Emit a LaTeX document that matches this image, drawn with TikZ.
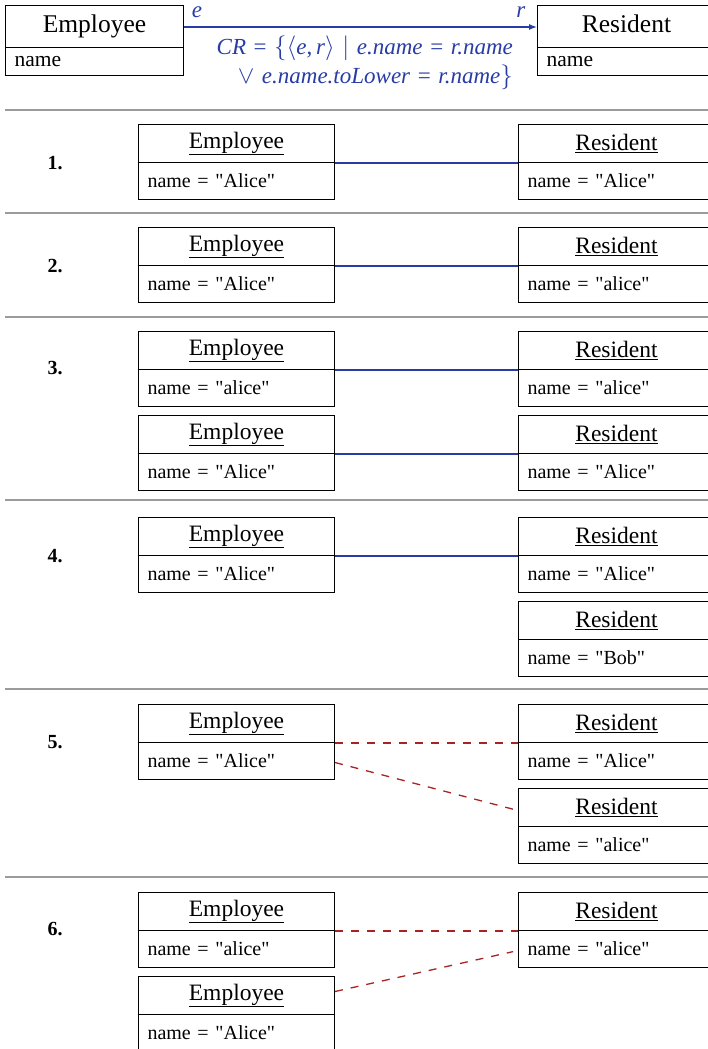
\documentclass[tikz,border=0pt]{standalone}
\usepackage{fontspec}
\setmainfont{Liberation Serif}[Ligatures=TeXOff]
\usetikzlibrary{arrows.meta}
\definecolor{crblue}{RGB}{40,60,165}
\definecolor{crred}{RGB}{170,35,35}
\definecolor{sepgray}{RGB}{155,155,155}
\tikzset{
  boxline/.style={draw, line width=1pt, inner sep=0pt, anchor=north west},
  ttl/.style={boxline, minimum width=196pt, minimum height=38pt, font=\fontsize{23.5}{26}\selectfont},
  att/.style={boxline, minimum width=196pt, minimum height=37pt, inner xsep=9pt, text width=178pt, align=left, font=\fontsize{20}{22}\selectfont},
  topttl/.style={boxline, minimum width=178pt, minimum height=42pt, text height=16pt, text depth=3pt, font=\fontsize{25.5}{28}\selectfont},
  topatt/.style={boxline, minimum width=178pt, minimum height=28pt, inner xsep=9pt, text width=160pt, align=left, font=\fontsize{21.5}{23}\selectfont},
  sep/.style={draw=sepgray, line width=1.2pt},
  rowlbl/.style={font=\fontsize{20}{24}\selectfont\bfseries},
  conn/.style={draw=crblue, line width=1.4pt},
  cand/.style={draw=crred, line width=1.3pt, dash pattern=on 8pt off 8pt},
  bluetxt/.style={text=crblue, font=\fontsize{23}{26}\selectfont},
}
\newcommand\objbox[5]{%
  \node[ttl] (#1t) at (#2,#3) {\underline{#4}};
  \node[att] (#1a) at (#2,#3+37.5) {#5};
}
\newcommand\thsp{\hspace{0.33em}}
\begin{document}
\begin{tikzpicture}[x=1pt,y=-1pt]
\useasboundingbox (0,0) rectangle (708,1049);
% header
\node[topttl] (et) at (5,5) {Employee};
\node[topatt] (ea) at (5,47) {name};
\node[topttl] (rt) at (537,5) {Resident};
\node[topatt] (ra) at (537,47) {name};
\draw[conn, -{Latex[length=8pt,width=6pt]}] (et.east |- 0,27) coordinate (ae) -- (rt.west |- 0,27) coordinate (ar);
\node[bluetxt, anchor=center] (le) at (197,12) {\textit{e}};
\node[bluetxt, anchor=center] (lr) at (521,12) {\textit{r}};
\node[bluetxt, align=right, anchor=north east, inner sep=0pt] (cr) at (513,36)
  {\textit{CR}\thsp=\thsp$\{\langle$\textit{e},\,\textit{r}$\rangle$\thsp$\mid$\thsp\textit{e.name}\thsp=\thsp\textit{r.name}\\[3pt]
   $\vee$\thsp\textit{e.name.toLower}\thsp=\thsp\textit{r.name}$\}$};
% separators
\foreach \yy/\nm in {110/s1,213/s2,317/s3,500/s4,689/s5,877/s6}
  \draw[sep] (5,\yy) coordinate (\nm a) -- (708,\yy) coordinate (\nm b);
% row labels
\node[rowlbl] (n1) at (55,163) {1.};
\node[rowlbl] (n2) at (55,266) {2.};
\node[rowlbl] (n3) at (55,368) {3.};
\node[rowlbl] (n4) at (55,556) {4.};
\node[rowlbl] (n5) at (55,742) {5.};
\node[rowlbl] (n6) at (55,929) {6.};
% row 1
\objbox{e1}{138}{124}{Employee}{name = "Alice"}
\objbox{r1}{518}{124}{Resident}{name = "Alice"}
\draw[conn] (e1t.south east) -- (r1t.south west);
% row 2
\objbox{e2}{138}{227}{Employee}{name = "Alice"}
\objbox{r2}{518}{227}{Resident}{name = "alice"}
\draw[conn] (e2t.south east) -- (r2t.south west);
% row 3
\objbox{e3a}{138}{331}{Employee}{name = "alice"}
\objbox{r3a}{518}{331}{Resident}{name = "alice"}
\objbox{e3b}{138}{415}{Employee}{name = "Alice"}
\objbox{r3b}{518}{415}{Resident}{name = "Alice"}
\draw[conn] (e3at.south east) -- (r3at.south west);
\draw[conn] (e3bt.south east) -- (r3bt.south west);
% row 4
\objbox{e4}{138}{517}{Employee}{name = "Alice"}
\objbox{r4a}{518}{517}{Resident}{name = "Alice"}
\objbox{r4b}{518}{601}{Resident}{name = "Bob"}
\draw[conn] (e4t.south east) -- (r4at.south west);
% row 5
\objbox{e5}{138}{704}{Employee}{name = "Alice"}
\objbox{r5a}{518}{704}{Resident}{name = "Alice"}
\objbox{r5b}{518}{788}{Resident}{name = "alice"}
\draw[cand] (e5t.south east) -- (r5at.south west);
\draw[cand, shorten >=5pt] ([yshift=-2pt]e5a.east) -- ([yshift=-3pt]r5bt.west);
% row 6
\objbox{e6a}{138}{892}{Employee}{name = "alice"}
\objbox{r6}{518}{892}{Resident}{name = "alice"}
\objbox{e6b}{138}{976}{Employee}{name = "Alice"}
\draw[cand] (e6at.south east) -- (r6t.south west);
\draw[cand, shorten >=5pt] ([yshift=4pt]e6bt.east) -- ([yshift=-2pt]r6a.west);
\end{tikzpicture}
\end{document}
